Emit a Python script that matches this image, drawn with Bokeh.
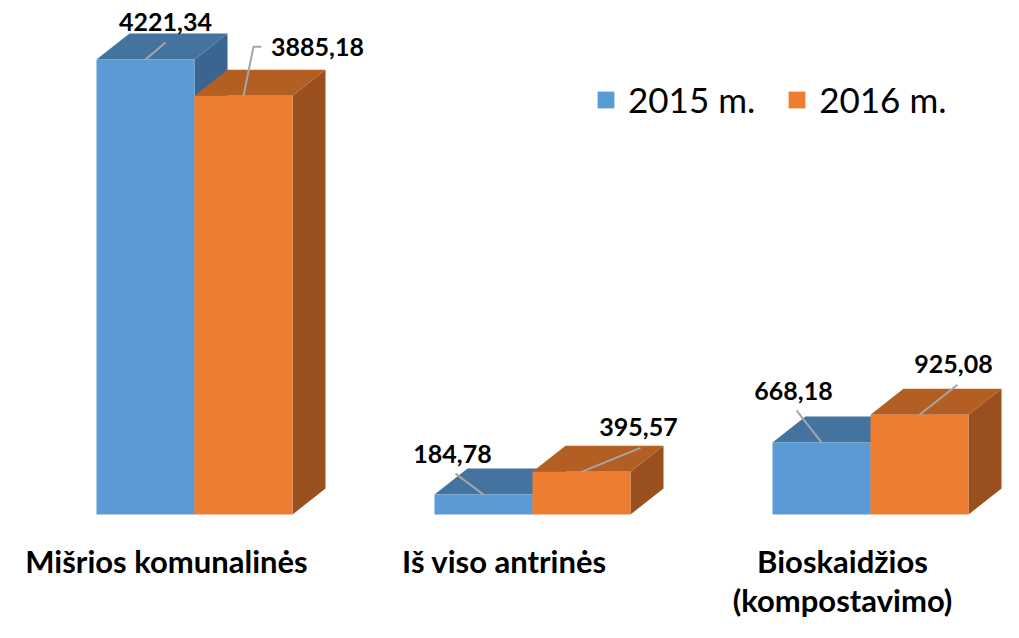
from bokeh.plotting import figure
from bokeh.models import Range1d, Legend, LegendItem
from bokeh.core.properties import value
from bokeh.embed import file_html
from bokeh.resources import INLINE

# ---------------- data ----------------
categories = ["Mišrios komunalinės", "Iš viso antrinės", "Bioskaidžios\n(kompostavimo)"]
series_names = ["2015 m.", "2016 m."]
values_2015 = [4221.34, 184.78, 668.18]
values_2016 = [3885.18, 395.57, 925.08]

# ---------------- layout / style ----------------
W, H = 1003, 622
BASE_PX = 514            # figure y (from top) of the bar base line
TOP_PX = 59              # figure y of the top of the value SCALE_MAX
SCALE_MAX = 4221.34
K = (BASE_PX - TOP_PX) / SCALE_MAX   # px per unit

GROUP_X0 = 96
GROUP_STEP = 338
BAR_W = 98
DEPTH_DX = 33
DEPTH_DY = 26
FONT = "Lato"

front_colors = ["#5B9BD5", "#ED7D31"]
top_colors = ["#44739F", "#B35E22"]
side_colors = ["#3A6590", "#9A4F1E"]

# label centre offsets (px) from each bar's front top-left corner
label_off = [[(69, -38), (18, -41), (21, -51)],
             [(123, -49), (106, -45), (83, -51)]]
# leader-line points relative to label centre (px); each then ends at bar top centre
leader_pts = [[[(0, 21)], [(3, 20)], [(3, 19)]],
              [[(-56, 0), (-64, 0)], [(2, 21)], [(4, 21)]]]


def u(px):
    return px / K


p = figure(width=W, height=H, output_backend="svg", toolbar_location=None,
           x_range=Range1d(0, W), y_range=Range1d((BASE_PX - H) / K, BASE_PX / K),
           min_border=0, outline_line_color=None,
           x_axis_location=None, y_axis_location=None)
p.xgrid.visible = False
p.ygrid.visible = False
p.background_fill_color = "white"
p.border_fill_color = "white"

dyu = u(DEPTH_DY)
front_renderers = []
series_values = [values_2015, values_2016]

for s, vals in enumerate(series_values):
    lefts = [GROUP_X0 + i * GROUP_STEP + s * BAR_W for i in range(len(vals))]
    rights = [l + BAR_W for l in lefts]
    side_xs, side_ys, top_xs, top_ys = [], [], [], []
    for l, r, v in zip(lefts, rights, vals):
        side_xs.append([r, r + DEPTH_DX, r + DEPTH_DX, r])
        side_ys.append([0, dyu, v + dyu, v])
        top_xs.append([l, l + DEPTH_DX, r + DEPTH_DX, r])
        top_ys.append([v, v + dyu, v + dyu, v])
    p.patches(xs=side_xs, ys=side_ys, fill_color=side_colors[s], line_color=None)
    p.patches(xs=top_xs, ys=top_ys, fill_color=top_colors[s], line_color=None)
    fr = p.quad(left=lefts, right=rights, bottom=[0] * len(vals), top=vals,
                fill_color=front_colors[s], line_color=None)
    front_renderers.append(fr)

# value labels + leader lines
for s, vals in enumerate(series_values):
    lx, ly, txt = [], [], []
    lead_xs, lead_ys = [], []
    for i, v in enumerate(vals):
        left = GROUP_X0 + i * GROUP_STEP + s * BAR_W
        ox, oy = label_off[s][i]
        cx = left + ox
        cy = v - u(oy)
        lx.append(cx)
        ly.append(cy)
        txt.append(f"{v:.2f}".replace(".", ","))
        xs = [cx + px for px, py in leader_pts[s][i]] + [left + BAR_W / 2]
        ys = [cy - u(py) for px, py in leader_pts[s][i]] + [v]
        lead_xs.append(xs)
        lead_ys.append(ys)
    p.multi_line(xs=lead_xs, ys=lead_ys, line_color="#A6A6A6", line_width=2)
    p.text(x=lx, y=ly, text=txt, text_font=value(FONT), text_font_style="bold",
           text_font_size="25px", text_align="center", text_baseline="middle",
           text_color="black")

# category labels
cat_x = [GROUP_X0 + i * GROUP_STEP + 70 for i in range(len(categories))]
cat_y = [(BASE_PX - 541) / K] * len(categories)
p.text(x=cat_x, y=cat_y, text=categories, text_font=value(FONT), text_font_style="bold",
       text_font_size="31px", text_align="center", text_baseline="top",
       text_color="black", text_line_height=1.05)

legend = Legend(items=[LegendItem(label=series_names[s], renderers=[front_renderers[s]])
                       for s in range(2)],
                orientation="horizontal", location=(595, 502),
                glyph_width=21, glyph_height=21, label_standoff=12, spacing=31,
                padding=0, margin=0, border_line_alpha=0, background_fill_alpha=0,
                label_text_font=FONT, label_text_font_size="35px", label_text_color="black")
p.add_layout(legend, "center")

open("out.html", "w").write(file_html(p, INLINE))
